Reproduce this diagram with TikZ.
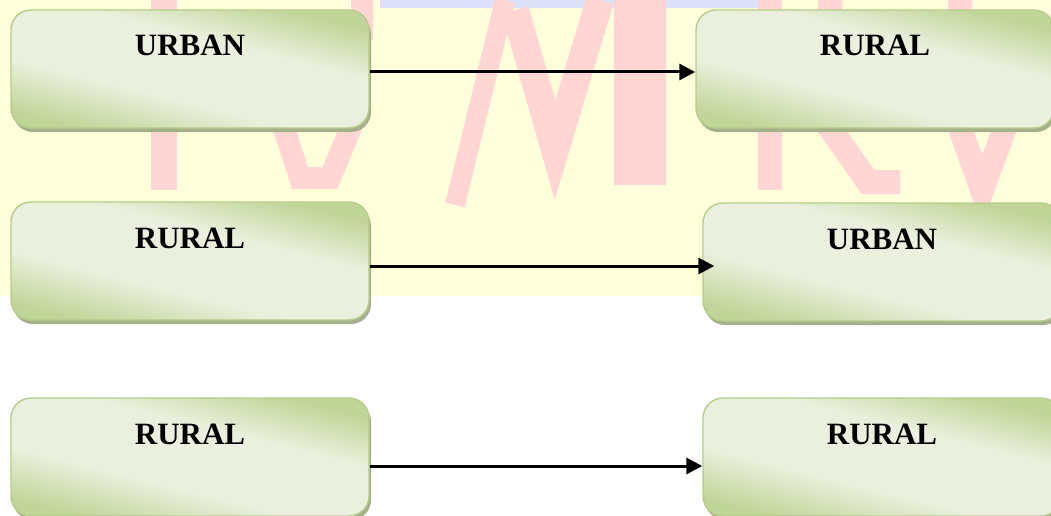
\documentclass[tikz,border=0pt]{standalone}
\usepackage{fontspec}
\setmainfont{Liberation Serif}
\usetikzlibrary{arrows.meta,shadows,calc}
\definecolor{bgyellow}{HTML}{FFFFDC}
\definecolor{wmpink}{HTML}{FFD6D4}
\definecolor{wmblue}{HTML}{DCE0F8}
\definecolor{gdark}{HTML}{C2D599}
\definecolor{glight}{HTML}{EAF0DD}
\definecolor{gborder}{HTML}{B6CC8A}
\definecolor{gshadow}{HTML}{A5AF8C}
\pgfdeclareverticalshading{boxshade}{100bp}{color(0bp)=(gdark); color(25bp)=(gdark); color(40bp)=(glight); color(60bp)=(glight); color(74bp)=(gdark); color(100bp)=(gdark)}
\tikzset{
  box/.style={rounded corners=20pt, draw=gborder, line width=1.4pt,
    shade, shading=boxshade, shading angle=-14,
    minimum width=358pt, minimum height=118pt, inner sep=0pt,
    text height=46pt, text depth=72pt,
    font=\fontsize{31}{31}\selectfont\bfseries,
    drop shadow={shadow xshift=2pt, shadow yshift=-4pt, fill=gshadow, opacity=1}},
  arr/.style={-{Triangle[length=16pt,width=16pt]}, line width=3pt},
  wm/.style={draw=wmpink, line width=#1}
}
\begin{document}
\begin{tikzpicture}[x=1pt,y=-1pt]
\useasboundingbox (0,0) rectangle (1051,516);
\clip (0,0) rectangle (1051,516);
% background watermark
\fill[white] (0,0) rectangle (1051,516);
\fill[bgyellow] (0,0) rectangle (1051,296);
\fill[wmblue] (380,0) rectangle (760,8);
\draw[wm=26pt] (164,0) -- (164,190);
\draw[wm=22pt] (283,125) -- (300,178) -- (330,178) -- (352,125);
\draw[wm=22pt] (362,0) -- (362,40);
\draw[wm=20pt] (505,0) -- (455,205);
\draw[wm=28pt] (515,10) -- (555,150) -- (600,0);
\draw[wm=52pt] (640,0) -- (640,185);
\draw[wm=24pt] (770,0) -- (770,190);
\draw[wm=24pt] (830,0) -- (830,128) -- (868,182) -- (900,182);
\draw[wm=24pt] (960,0) -- (960,128) -- (982,190) -- (1005,128);
% boxes
\node[box] (b1) at (190,69) {URBAN};
\node[box] (b2) at (875,69) {RURAL};
\node[box] (b3) at (190,261) {RURAL};
\node[box] (b4) at (882,262) {URBAN};
\node[box] (b5) at (190,457) {RURAL};
\node[box] (b6) at (882,457) {RURAL};
% arrows
\draw[arr] ([yshift=-3pt]b1.east) -- ([yshift=-3pt]b1.east -| b2.west);
\draw[arr, shorten >=-12pt] ([yshift=-5pt]b3.east) -- ([yshift=-5pt]b3.east -| b4.west);
\draw[arr] ([yshift=-9pt]b5.east) -- ([yshift=-9pt]b5.east -| b6.west);
\end{tikzpicture}
\end{document}
